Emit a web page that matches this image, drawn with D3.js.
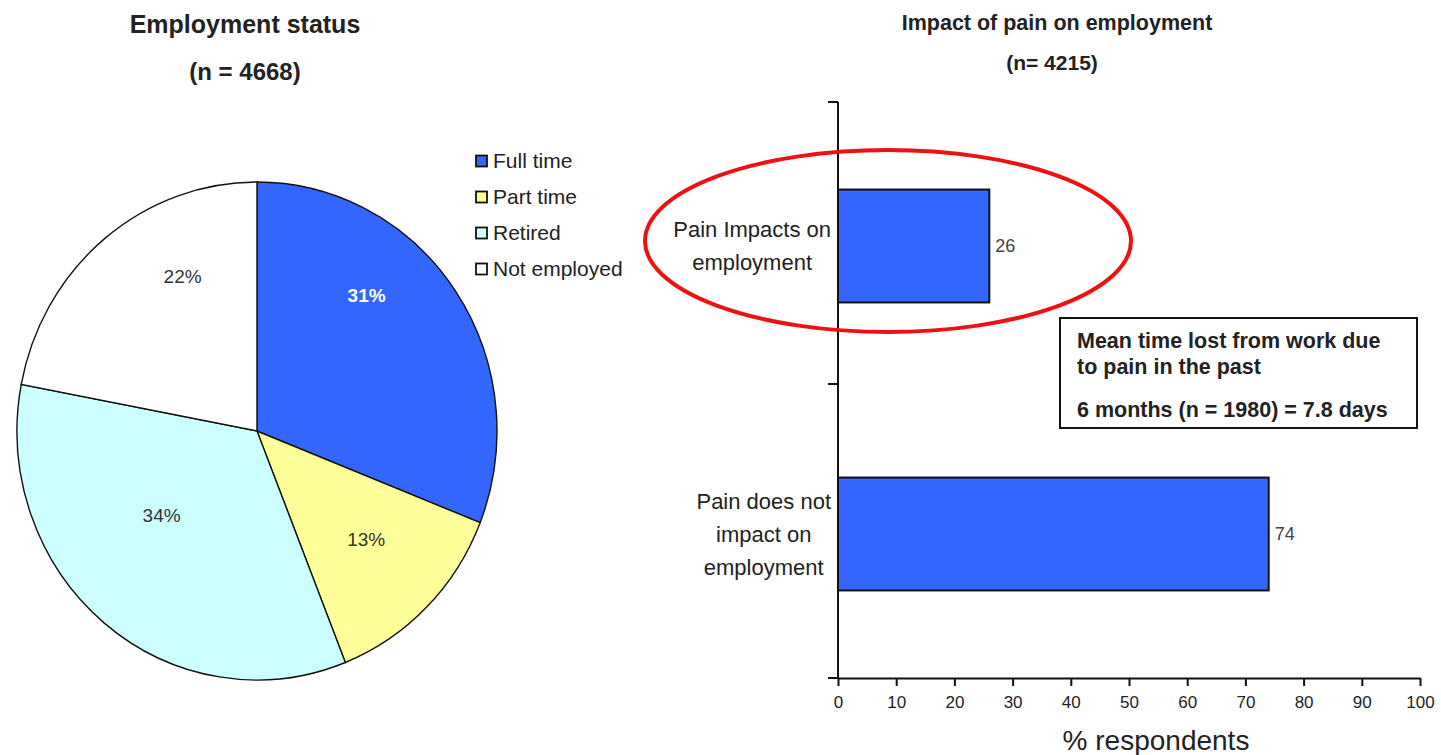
<!DOCTYPE html>
<html>
<head>
<meta charset="utf-8">
<script src="https://cdn.jsdelivr.net/npm/d3@7/dist/d3.min.js"></script>
<style>
  html, body { margin: 0; padding: 0; background: #fff; }
  svg { display: block; font-family: "Liberation Sans", Arial, sans-serif; }
</style>
</head>
<body>
<svg id="chart" width="1441" height="755"></svg>
<script>
// ---- Employment status (pie) ----
const pieCategories = ["Full time", "Part time", "Retired", "Not employed"];
const pieValues = [31, 13, 34, 22];
const pieColors = ["#3366FF", "#FFFF99", "#CCFFFF", "#FFFFFF"];
const pieLabelColors = ["#ffffff", "#333333", "#333333", "#333333"];

// ---- Impact of pain on employment (bars) ----
const barCategories = [["Pain Impacts on", "employment"], ["Pain does not", "impact on", "employment"]];
const barValues = [26, 74];
const xTicks = [0, 10, 20, 30, 40, 50, 60, 70, 80, 90, 100];

const noteLines = ["Mean time lost from work due", "to pain in the past", "6 months (n = 1980) = 7.8 days"];

const svg = d3.select("#chart");
svg.append("rect").attr("width", 1441).attr("height", 755).attr("fill", "#fff");

const ink = "#222";

// ---------- left panel ----------
svg.append("text").attr("x", 245).attr("y", 33).attr("text-anchor", "middle")
  .attr("font-size", 25).attr("font-weight", "bold").attr("fill", ink).text("Employment status");
svg.append("text").attr("x", 245).attr("y", 80).attr("text-anchor", "middle")
  .attr("font-size", 24).attr("font-weight", "bold").attr("fill", ink).text("(n = 4668)");

const pieCx = 257, pieCy = 431, pieR = 240, pieSy = 1.0375;
const pie = d3.pie().sort(null).value(d => d)(pieValues);
const arc = d3.arc().innerRadius(0).outerRadius(pieR);

const pg = svg.append("g").attr("transform", `translate(${pieCx},${pieCy}) scale(1,${pieSy})`);
pg.selectAll("path").data(pie).join("path")
  .attr("d", arc)
  .attr("fill", (d, i) => pieColors[i])
  .attr("stroke", "#111")
  .attr("stroke-width", 1.4)
  .attr("vector-effect", "non-scaling-stroke");

// label placement: centroid at a fixed radius, then a small nudge per slice
const labelArc = d3.arc().innerRadius(170).outerRadius(170);
const labelNudge = [[-31, -37], [-11, -16], [13, -52], [34, -19]];
svg.append("g").selectAll("text").data(pie).join("text")
  .attr("x", (d, i) => pieCx + labelArc.centroid(d)[0] + labelNudge[i][0])
  .attr("y", (d, i) => pieCy + labelArc.centroid(d)[1] * pieSy + labelNudge[i][1])
  .attr("dy", "0.35em")
  .attr("text-anchor", "middle")
  .attr("font-size", 19)
  .attr("font-weight", (d, i) => i === 0 ? "bold" : "normal")
  .attr("fill", (d, i) => pieLabelColors[i])
  .text(d => d.data + "%");

// legend
const lg = svg.append("g").attr("transform", "translate(476,161)");
const li = lg.selectAll("g").data(pieCategories).join("g")
  .attr("transform", (d, i) => `translate(0,${i * 36})`);
li.append("rect").attr("x", 0).attr("y", -5.5).attr("width", 11).attr("height", 11)
  .attr("fill", (d, i) => pieColors[i]).attr("stroke", "#111").attr("stroke-width", 1.8);
li.append("text").attr("x", 17).attr("dy", "0.35em").attr("font-size", 21)
  .attr("fill", ink).text(d => d);

// ---------- right panel ----------
svg.append("text").attr("x", 1057).attr("y", 30).attr("text-anchor", "middle")
  .attr("font-size", 21.5).attr("font-weight", "bold").attr("fill", ink).text("Impact of pain on employment");
svg.append("text").attr("x", 1052).attr("y", 70).attr("text-anchor", "middle")
  .attr("font-size", 21).attr("font-weight", "bold").attr("fill", ink).text("(n= 4215)");

const x = d3.scaleLinear().domain([0, 100]).range([838, 1420]);
const y = d3.scaleBand().domain(d3.range(barValues.length)).range([102, 678])
  .paddingInner(0.608).paddingOuter(0.304);

// bars
svg.append("g").selectAll("rect").data(barValues).join("rect")
  .attr("x", x(0))
  .attr("y", (d, i) => y(i))
  .attr("width", d => x(d) - x(0))
  .attr("height", y.bandwidth())
  .attr("fill", "#3366FF")
  .attr("stroke", "#111")
  .attr("stroke-width", 2);

// value labels
svg.append("g").selectAll("text").data(barValues).join("text")
  .attr("x", d => x(d) + 6)
  .attr("y", (d, i) => y(i) + y.bandwidth() / 2)
  .attr("dy", "0.35em")
  .attr("font-size", 18)
  .attr("fill", "#444")
  .text(d => d);

// x axis
const xAxis = svg.append("g").attr("transform", `translate(0,${y.range()[1]})`)
  .call(d3.axisBottom(x).tickValues(xTicks).tickSizeInner(8).tickSizeOuter(0).tickPadding(10));
xAxis.select(".domain").attr("stroke", "#111").attr("stroke-width", 2);
xAxis.selectAll(".tick line").attr("stroke", "#111").attr("stroke-width", 2);
xAxis.selectAll(".tick text").attr("font-size", 17).attr("fill", ink)
  .attr("font-family", "Liberation Sans, Arial, sans-serif");

svg.append("text").attr("x", 1156).attr("y", 750).attr("text-anchor", "middle")
  .attr("font-size", 28).attr("fill", ink).text("% respondents");

// y axis: line with ticks at the category boundaries
const [y0, y1] = y.range();
svg.append("line").attr("x1", x(0)).attr("x2", x(0)).attr("y1", y0).attr("y2", y1)
  .attr("stroke", "#111").attr("stroke-width", 2);
const bounds = [y0, (y0 + y1) / 2 - 6, y1];
svg.append("g").selectAll("line").data(bounds).join("line")
  .attr("x1", x(0) - 10).attr("x2", x(0)).attr("y1", d => d).attr("y2", d => d)
  .attr("stroke", "#111").attr("stroke-width", 2);

// category labels, centered as a block left of the axis
const catG = svg.append("g");
barCategories.forEach((lines, i) => {
  const cy = y(i) + y.bandwidth() / 2;
  const lh = 33;
  const t = catG.append("text").attr("text-anchor", "middle").attr("font-size", 22).attr("fill", ink);
  lines.forEach((ln, k) => {
    t.append("tspan").attr("x", 0).attr("y", cy + (k - (lines.length - 1) / 2) * lh).attr("dy", "0.35em").text(ln);
  });
  const w = t.node().getBBox().width;
  t.attr("transform", `translate(${x(0) - 7 - w / 2},0)`);
});

// highlight ellipse around the first category
svg.append("ellipse").attr("cx", 888).attr("cy", y(0) + y.bandwidth() / 2 - 5)
  .attr("rx", 243).attr("ry", 91)
  .attr("fill", "none").attr("stroke", "#ee1111").attr("stroke-width", 4);

// note box
const nb = svg.append("g").attr("transform", "translate(1060,318)");
nb.append("rect").attr("width", 357).attr("height", 110).attr("fill", "#fff")
  .attr("stroke", "#111").attr("stroke-width", 2);
const noteY = [30, 56, 99];
nb.selectAll("text").data(noteLines).join("text")
  .attr("x", 17).attr("y", (d, i) => noteY[i])
  .attr("font-size", 21.5).attr("font-weight", "bold").attr("fill", ink)
  .text(d => d);
</script>
</body>
</html>
